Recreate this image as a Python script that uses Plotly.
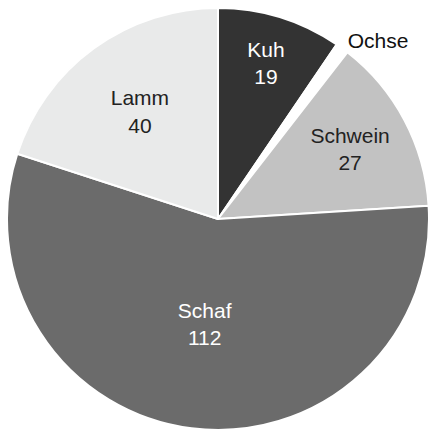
import plotly.graph_objects as go

labels = ["Kuh", "Ochse", "Schwein", "Schaf", "Lamm"]
values = [19, 2, 27, 112, 40]
colors = ["#333333", "#ffffff", "#c2c2c2", "#6b6b6b", "#e9eaea"]
text_colors = ["#ffffff", "#222222", "#222222", "#ffffff", "#222222"]
positions = ["inside", "outside", "inside", "inside", "inside"]
templates = ["%{label}<br>%{value}", "%{label}", "%{label}<br>%{value}",
             "%{label}<br>%{value}", "%{label}<br>%{value}"]

fig = go.Figure(go.Pie(
    labels=labels,
    values=values,
    sort=False,
    direction="clockwise",
    rotation=0,
    marker=dict(colors=colors, line=dict(color="#ffffff", width=2)),
    textposition=positions,
    texttemplate=templates,
    insidetextorientation="horizontal",
    insidetextfont=dict(color=text_colors, size=21, family="Liberation Sans, Arial, sans-serif"),
    outsidetextfont=dict(color="#111111", size=21, family="Liberation Sans, Arial, sans-serif"),
    hoverinfo="label+value",
    showlegend=False,
    automargin=False,
    domain=dict(x=[7/429, 1], y=[0, 1]),
))

fig.update_layout(
    width=429, height=433,
    margin=dict(l=0, r=0, t=7, b=2),
    paper_bgcolor="#ffffff",
    plot_bgcolor="#ffffff",
    font=dict(family="Liberation Sans, Arial, sans-serif", size=21),
)

fig.write_html(
    "out.html",
    config={"displayModeBar": False},
    post_script="document.body.style.margin='0';document.body.style.overflow='hidden';",
)
